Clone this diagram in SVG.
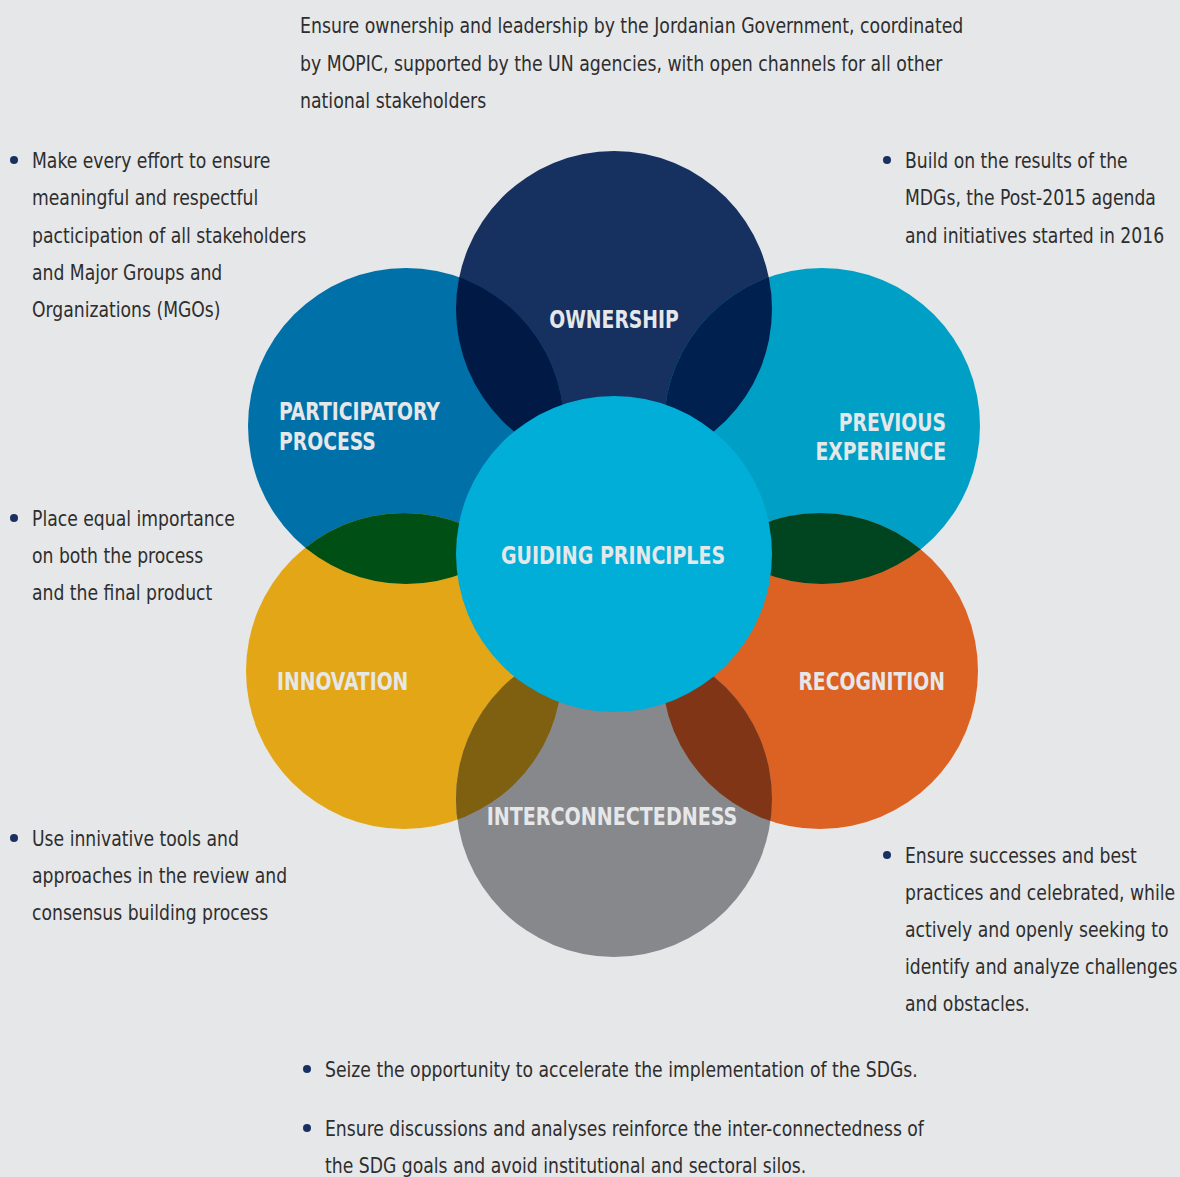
<svg xmlns="http://www.w3.org/2000/svg" width="1180" height="1177" viewBox="0 0 1180 1177">
<style>
.t{font-family:"DejaVu Sans Condensed","Liberation Sans",sans-serif;font-size:22px;fill:#2e2e2e}
.l{font-family:"DejaVu Sans Condensed","Liberation Sans",sans-serif;font-size:24px;font-weight:bold;fill:#e6e7e9}
.b{fill:#1a3060}
</style>
<defs>
<clipPath id="cO"><circle cx="614" cy="309" r="158"/></clipPath>
<clipPath id="cPa"><circle cx="406" cy="426" r="158"/></clipPath>
<clipPath id="cPr"><circle cx="822" cy="426" r="158"/></clipPath>
<clipPath id="cIn"><circle cx="404" cy="671" r="158"/></clipPath>
<clipPath id="cRe"><circle cx="820" cy="671" r="158"/></clipPath>
</defs>
<rect width="1180" height="1177" fill="#e6e7e9"/>
<g id="connectors"></g>
<g id="ownership"><circle cx="614" cy="309" r="158" fill="#163060"/></g>
<g id="participatory"><circle cx="406" cy="426" r="158" fill="#0070a8"/></g>
<g id="previous"><circle cx="822" cy="426" r="158" fill="#00a0c6"/></g>
<g id="innovation"><circle cx="404" cy="671" r="158" fill="#e3a617"/></g>
<g id="recognition"><circle cx="820" cy="671" r="158" fill="#dc6224"/></g>
<g id="interconnectedness"><circle cx="614" cy="799" r="158" fill="#87888c"/></g>
<g id="overlaps">
<circle cx="406" cy="426" r="158" fill="#011a45" clip-path="url(#cO)"/>
<circle cx="822" cy="426" r="158" fill="#00214f" clip-path="url(#cO)"/>
<circle cx="404" cy="671" r="158" fill="#004f14" clip-path="url(#cPa)"/>
<circle cx="820" cy="671" r="158" fill="#00451f" clip-path="url(#cPr)"/>
<circle cx="614" cy="799" r="158" fill="#7f5f10" clip-path="url(#cIn)"/>
<circle cx="614" cy="799" r="158" fill="#803616" clip-path="url(#cRe)"/>
</g>
<g id="guiding"><circle cx="614" cy="554" r="158" fill="#00aed8"/>
<g transform="translate(613,0) scale(0.88,1)"><text class="l" x="0" y="564" text-anchor="middle">GUIDING PRINCIPLES</text></g></g>
<g id="labels">
<g transform="translate(614,0) scale(0.87,1)"><text class="l" x="0" y="328" text-anchor="middle">OWNERSHIP</text></g>
<g transform="translate(279,0) scale(0.87,1)"><text class="l" x="0" y="420">PARTICIPATORY</text><text class="l" x="0" y="450">PROCESS</text></g>
<g transform="translate(946,0) scale(0.87,1)"><text class="l" x="0" y="431" text-anchor="end">PREVIOUS</text><text class="l" x="0" y="460" text-anchor="end">EXPERIENCE</text></g>
<g transform="translate(277,0) scale(0.87,1)"><text class="l" x="0" y="690">INNOVATION</text></g>
<g transform="translate(945,0) scale(0.87,1)"><text class="l" x="0" y="690" text-anchor="end">RECOGNITION</text></g>
<g transform="translate(612,0) scale(0.885,1)"><text class="l" x="0" y="825" text-anchor="middle">INTERCONNECTEDNESS</text></g>
</g>
<g id="text-top" transform="translate(300,0) scale(0.875,1)">
<text class="t" x="0" y="33">Ensure ownership and leadership by the Jordanian Government, coordinated</text>
<text class="t" x="0" y="71">by MOPIC, supported by the UN agencies, with open channels for all other</text>
<text class="t" x="0" y="108">national stakeholders</text>
</g>
<g id="text-participatory">
<circle class="b" cx="14" cy="160" r="4"/>
<g transform="translate(32,0) scale(0.87,1)">
<text class="t" x="0" y="168">Make every effort to ensure</text>
<text class="t" x="0" y="205">meaningful and respectful</text>
<text class="t" x="0" y="243">pacticipation of all stakeholders</text>
<text class="t" x="0" y="280">and Major Groups and</text>
<text class="t" x="0" y="317">Organizations (MGOs)</text>
</g>
</g>
<g id="text-process">
<circle class="b" cx="14" cy="518" r="4"/>
<g transform="translate(32,0) scale(0.87,1)">
<text class="t" x="0" y="526">Place equal importance</text>
<text class="t" x="0" y="563">on both the process</text>
<text class="t" x="0" y="600">and the final product</text>
</g>
</g>
<g id="text-innovation">
<circle class="b" cx="14" cy="838" r="4"/>
<g transform="translate(32,0) scale(0.87,1)">
<text class="t" x="0" y="846">Use innivative tools and</text>
<text class="t" x="0" y="883">approaches in the review and</text>
<text class="t" x="0" y="920">consensus building process</text>
</g>
</g>
<g id="text-previous">
<circle class="b" cx="887" cy="160" r="4"/>
<g transform="translate(905,0) scale(0.87,1)">
<text class="t" x="0" y="168">Build on the results of the</text>
<text class="t" x="0" y="205">MDGs, the Post-2015 agenda</text>
<text class="t" x="0" y="243">and initiatives started in 2016</text>
</g>
</g>
<g id="text-recognition">
<circle class="b" cx="887" cy="855" r="4"/>
<g transform="translate(905,0) scale(0.87,1)">
<text class="t" x="0" y="863">Ensure successes and best</text>
<text class="t" x="0" y="900">practices and celebrated, while</text>
<text class="t" x="0" y="937">actively and openly seeking to</text>
<text class="t" x="0" y="974">identify and analyze challenges</text>
<text class="t" x="0" y="1011">and obstacles.</text>
</g>
</g>
<g id="text-bottom">
<circle class="b" cx="307" cy="1069" r="4"/>
<circle class="b" cx="307" cy="1128" r="4"/>
<g transform="translate(325,0) scale(0.87,1)">
<text class="t" x="0" y="1077">Seize the opportunity to accelerate the implementation of the SDGs.</text>
<text class="t" x="0" y="1136">Ensure discussions and analyses reinforce the inter-connectedness of</text>
<text class="t" x="0" y="1173">the SDG goals and avoid institutional and sectoral silos.</text>
</g>
</g>
</svg>
